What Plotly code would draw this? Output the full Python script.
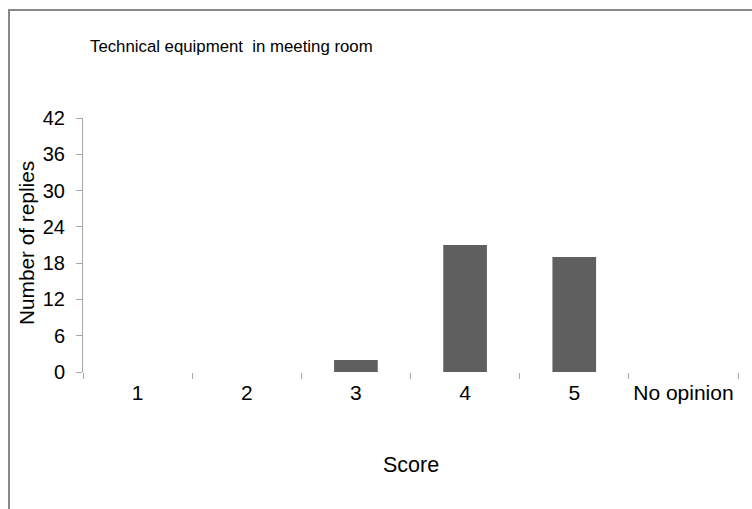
import plotly.graph_objects as go

categories = ["1", "2", "3", "4", "5", "No opinion"]
replies = [0, 0, 2, 21, 19, 0]
y_ticks = [0, 6, 12, 18, 24, 30, 36, 42]

W, H = 752, 509
L, R, T, B = 83, 14, 118, 137
PW = W - L - R
PH = H - T - B

def px_x(p):
    return (p - L) / PW

def px_y(p):
    return (H - B - p) / PH

fig = go.Figure()
fig.add_trace(go.Bar(
    x=categories,
    y=replies,
    width=0.4,
    marker=dict(color="#5f5f5f", line=dict(width=0)),
))

font = "Liberation Sans, Arial, sans-serif"

fig.update_layout(
    width=W, height=H,
    margin=dict(l=L, r=R, t=T, b=B, autoexpand=False),
    paper_bgcolor="white",
    plot_bgcolor="white",
    showlegend=False,
    font=dict(family=font, size=19, color="black"),
    bargap=0.6,
    xaxis=dict(
        type="category",
        automargin=False,
        tickangle=0,
        showgrid=False,
        showline=False,
        zeroline=False,
        ticks="outside",
        tickson="boundaries",
        ticklen=6,
        tickcolor="#a8a8a8",
        tickwidth=1,
        tickfont=dict(size=21, family=font, color="black"),
        ticklabelstandoff=6,
    ),
    yaxis=dict(
        range=[0, 42],
        automargin=False,
        tickvals=y_ticks,
        showgrid=False,
        zeroline=False,
        showline=True,
        linecolor="#a8a8a8",
        linewidth=1,
        ticks="outside",
        ticklen=6,
        tickcolor="#a8a8a8",
        tickfont=dict(size=20, family=font, color="black"),
        ticklabelstandoff=7,
    ),
    annotations=[
        dict(text="Technical equipment  in meeting room", xref="paper", yref="paper",
             x=px_x(88), y=px_y(46), xanchor="left", yanchor="middle",
             showarrow=False, font=dict(size=16.8, family=font, color="black")),
        dict(text="Number of replies", xref="paper", yref="paper",
             x=px_x(26), y=px_y(243), xanchor="center", yanchor="middle",
             textangle=-90, showarrow=False, font=dict(size=20.8, family=font, color="black")),
        dict(text="Score", xref="paper", yref="paper",
             x=px_x(411), y=px_y(465), xanchor="center", yanchor="middle",
             showarrow=False, font=dict(size=21.5, family=font, color="black")),
    ],
    shapes=[
        dict(type="line", xref="paper", yref="paper",
             x0=px_x(8), x1=px_x(760), y0=px_y(10), y1=px_y(10),
             line=dict(color="#888888", width=2)),
        dict(type="line", xref="paper", yref="paper",
             x0=px_x(9), x1=px_x(9), y0=px_y(9), y1=px_y(520),
             line=dict(color="#888888", width=2)),
    ],
)

fig.write_html(
    "out.html",
    config={"displayModeBar": False},
    post_script="document.body.style.margin='0';document.body.style.overflow='hidden';",
)
